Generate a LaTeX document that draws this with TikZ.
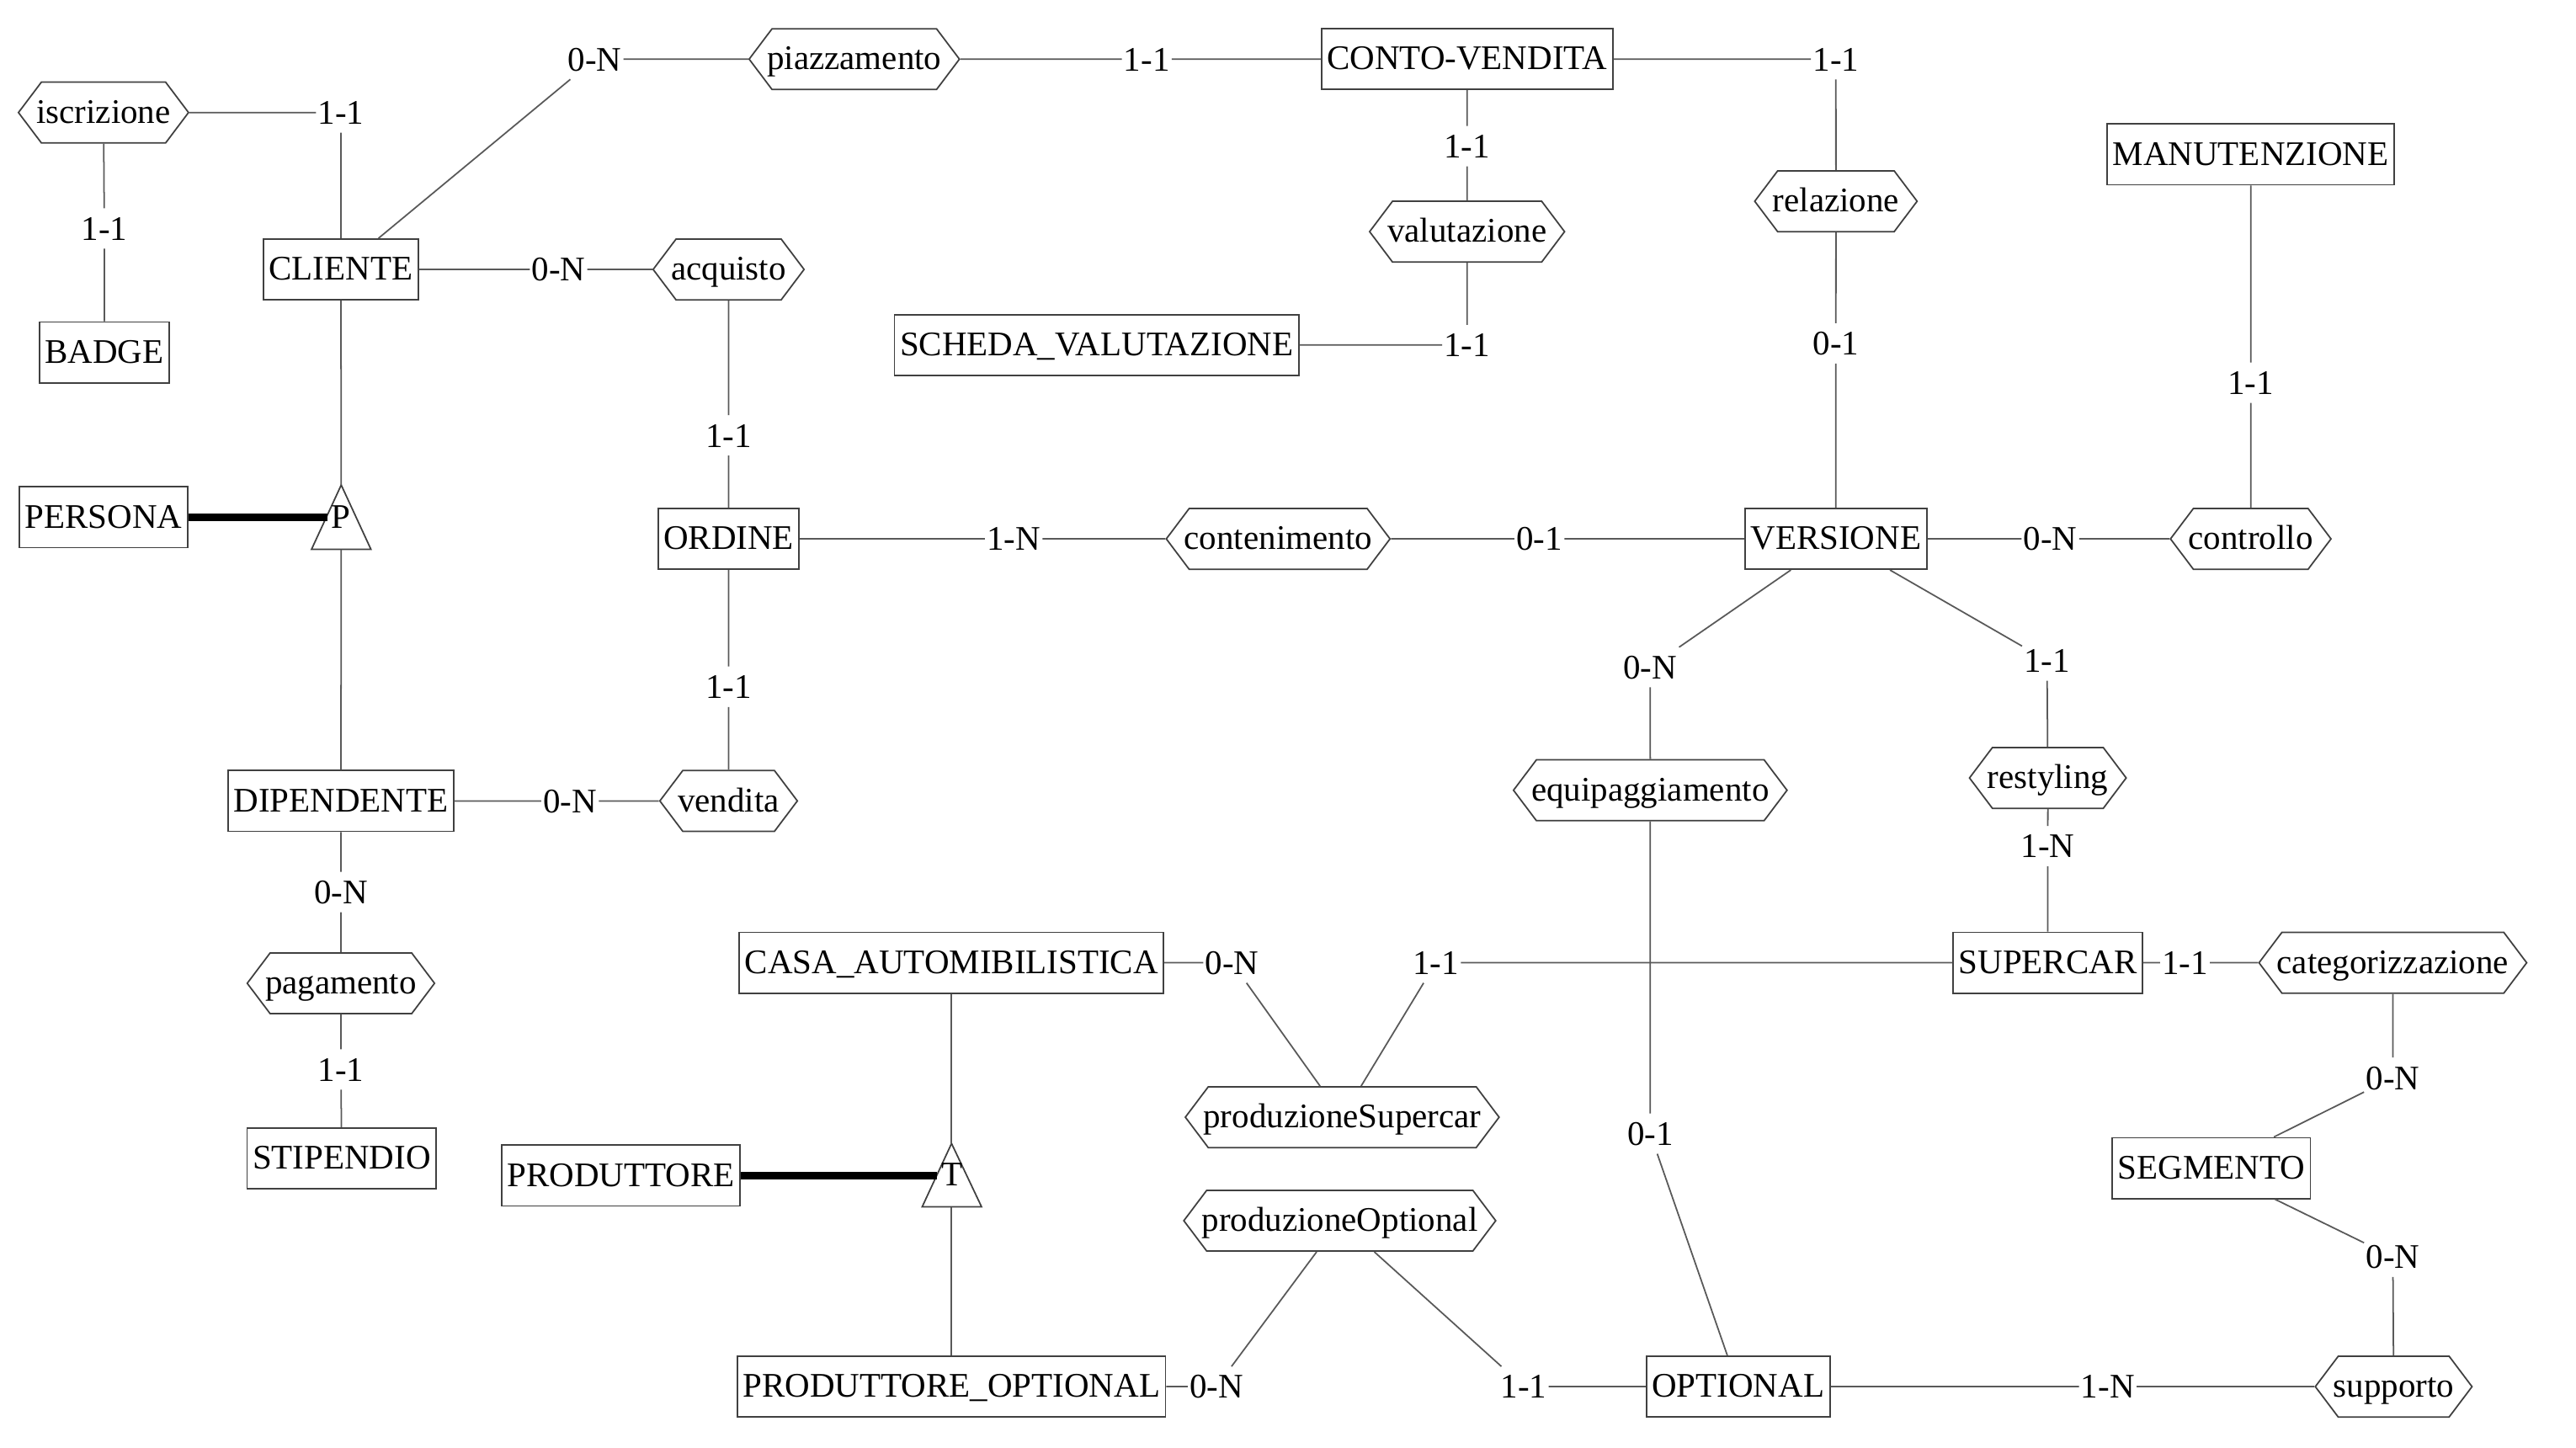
\documentclass[tikz,border=0pt]{standalone}
\usepackage{fontspec}
\setmainfont{Liberation Serif}
\usetikzlibrary{shapes.symbols}
\begin{document}
\begin{tikzpicture}[x=1pt,y=-1pt,
  every node/.style={font=\fontsize{21}{25}\selectfont},
  ent/.style={draw=black!75, line width=0.9pt, fill=white, rectangle, minimum height=37pt,
    inner xsep=3.3pt, inner ysep=0pt, text height=15pt, text depth=2pt},
  rel/.style={draw=black!75, line width=0.9pt, fill=white, signal, signal to=west and east,
    signal pointer angle=106, inner xsep=-3pt, inner ysep=0pt, minimum height=37pt,
    text height=15pt, text depth=2pt},
  card/.style={inner xsep=1pt, inner ysep=5pt, text height=14.2pt, text depth=0pt},
  conn/.style={draw=black!65, line width=0.9pt},
  isa/.style={draw=black, line width=4.4pt},
  tri/.style={draw=black!75, line width=0.9pt, fill=white},
]
\fill[white] (0,0) rectangle (1568,881);
\useasboundingbox (0,0) rectangle (1568,881);

% entities
\node[ent] (cliente) at (207.5,164) {CLIENTE};
\node[ent] (badge) at (63.5,214.5) {BADGE};
\node[ent] (persona) at (63,314.8) {PERSONA};
\node[ent] (dipendente) at (207.5,487.5) {DIPENDENTE};
\node[ent] (stipendio) at (208,705) {STIPENDIO};
\node[ent] (conto) at (893,36) {CONTO-VENDITA};
\node[ent] (scheda) at (667.5,210) {SCHEDA\_VALUTAZIONE};
\node[ent] (ordine) at (443.5,328) {ORDINE};
\node[ent] (versione) at (1117.5,328) {VERSIONE};
\node[ent] (manut) at (1370,94) {MANUTENZIONE};
\node[ent] (supercar) at (1246.5,586) {SUPERCAR};
\node[ent] (segmento) at (1346,711) {SEGMENTO};
\node[ent] (casa) at (579.2,586) {CASA\_AUTOMIBILISTICA};
\node[ent] (produttore) at (378,715.5) {PRODUTTORE};
\node[ent] (prodopt) at (579.2,844) {PRODUTTORE\_OPTIONAL};
\node[ent] (optional) at (1058,844) {OPTIONAL};

% relationships
\node[rel] (iscrizione) at (63,68.5) {iscrizione};
\node[rel] (piazzamento) at (520,36) {piazzamento};
\node[rel] (acquisto) at (443.5,164) {acquisto};
\node[rel] (valutazione) at (893,141) {valutazione};
\node[rel] (relazione) at (1117.5,122.5) {relazione};
\node[rel] (contenimento) at (778,328) {contenimento};
\node[rel] (controllo) at (1370,328) {controllo};
\node[rel] (vendita) at (443.5,487.5) {vendita};
\node[rel] (equip) at (1004.5,481) {equipaggiamento};
\node[rel] (restyling) at (1246.5,473.5) {restyling};
\node[rel] (categ) at (1456.5,586) {categorizzazione};
\node[rel] (pagamento) at (207.5,598.5) {pagamento};
\node[rel] (prodsup) at (817,680) {produzioneSupercar};
\node[rel] (prodoptr) at (815.5,743) {produzioneOptional};
\node[rel] (supporto) at (1457,844) {supporto};

% generalisation triangles
\coordinate (Ptop) at (207.7,295.2);
\coordinate (Pbl) at (189.6,334.4);
\coordinate (Pbr) at (225.8,334.4);
\coordinate (Pbot) at (207.7,334.4);
\coordinate (Pleft) at (199.5,314.8);
\draw[tri] (Ptop) -- (Pbl) -- (Pbr) -- cycle;
\node[anchor=base, inner sep=0pt] (plbl) at (207.4,321.5) {P};

\coordinate (Ttop) at (579.2,696.0);
\coordinate (Tbl) at (561.3,734.6);
\coordinate (Tbr) at (597.5,734.6);
\coordinate (Tbot) at (579.2,734.6);
\coordinate (Tleft) at (570.5,715.5);
\draw[tri] (Ttop) -- (Tbl) -- (Tbr) -- cycle;
\node[anchor=base, inner sep=0pt] (tlbl) at (579.6,721.7) {T};

% cardinality labels
\node[card] (c1) at (207.5,68.5) {1-1};
\node[card] (c2) at (63.5,139) {1-1};
\node[card] (c3) at (362,36) {0-N};
\node[card] (c4) at (698,36) {1-1};
\node[card] (c5) at (1117.5,36) {1-1};
\node[card] (c6) at (1117.5,209) {0-1};
\node[card] (c7) at (893,89) {1-1};
\node[card] (c8) at (893,210) {1-1};
\node[card] (c9) at (340,164) {0-N};
\node[card] (c10) at (443.5,265) {1-1};
\node[card] (c11) at (617,328) {1-N};
\node[card] (c12) at (937,328) {0-1};
\node[card] (c13) at (443.5,418) {1-1};
\node[card] (c14) at (347,487.5) {0-N};
\node[card] (c15) at (207.5,543) {0-N};
\node[card] (c16) at (207.5,651) {1-1};
\node[card] (c17) at (1248,328) {0-N};
\node[card] (c18) at (1370,233) {1-1};
\node[card] (c19) at (1004.5,406) {0-N};
\node[card] (c20) at (1246,402) {1-1};
\node[card] (c21) at (1246.5,515) {1-N};
\node[card] (c22) at (1004.5,690) {0-1};
\node[card] (c23) at (874,586) {1-1};
\node[card] (c24) at (750,586) {0-N};
\node[card] (c25) at (1330,586) {1-1};
\node[card] (c26) at (1456.5,656) {0-N};
\node[card] (c27) at (1456.5,765) {0-N};
\node[card] (c28) at (1283,844) {1-N};
\node[card] (c29) at (740.5,844) {0-N};
\node[card] (c30) at (927.5,844) {1-1};

% connectors
\draw[conn] (iscrizione) -- (c1) -- (cliente);
\draw[conn] (iscrizione) -- (c2) -- (badge);
\draw[conn] (cliente) -- (c3) -- (piazzamento);
\draw[conn] (piazzamento) -- (c4) -- (conto);
\draw[conn] (conto) -- (c5) -- (relazione);
\draw[conn] (relazione) -- (c6) -- (versione);
\draw[conn] (conto) -- (c7) -- (valutazione);
\draw[conn] (valutazione) -- (c8) -- (scheda);
\draw[conn] (cliente) -- (c9) -- (acquisto);
\draw[conn] (acquisto) -- (c10) -- (ordine);
\draw[conn] (ordine) -- (c11) -- (contenimento);
\draw[conn] (contenimento) -- (c12) -- (versione);
\draw[conn] (ordine) -- (c13) -- (vendita);
\draw[conn] (dipendente) -- (c14) -- (vendita);
\draw[conn] (dipendente) -- (c15) -- (pagamento);
\draw[conn] (pagamento) -- (c16) -- (stipendio);
\draw[conn] (versione) -- (c17) -- (controllo);
\draw[conn] (manut) -- (c18) -- (controllo);
\draw[conn] (versione) -- (c19) -- (equip);
\draw[conn] (versione) -- (c20) -- (restyling);
\draw[conn] (restyling) -- (c21) -- (supercar);
\draw[conn] (equip) -- (c22) -- (optional);
\draw[conn] (supercar) -- (c23) -- (prodsup);
\draw[conn] (casa) -- (c24) -- (prodsup);
\draw[conn] (supercar) -- (c25) -- (categ);
\draw[conn] (categ) -- (c26) -- (segmento);
\draw[conn] (segmento) -- (c27) -- (supporto);
\draw[conn] (optional) -- (c28) -- (supporto);
\draw[conn] (prodopt) -- (c29) -- (prodoptr);
\draw[conn] (prodoptr) -- (c30) -- (optional);
\draw[conn] (cliente) -- (Ptop);
\draw[conn] (Pbot) -- (dipendente);
\draw[conn] (casa) -- (Ttop);
\draw[conn] (Tbot) -- (prodopt);
\draw[isa] (persona.east) -- (Pleft);
\draw[isa] (produttore.east) -- (Tleft);
\end{tikzpicture}
\end{document}
